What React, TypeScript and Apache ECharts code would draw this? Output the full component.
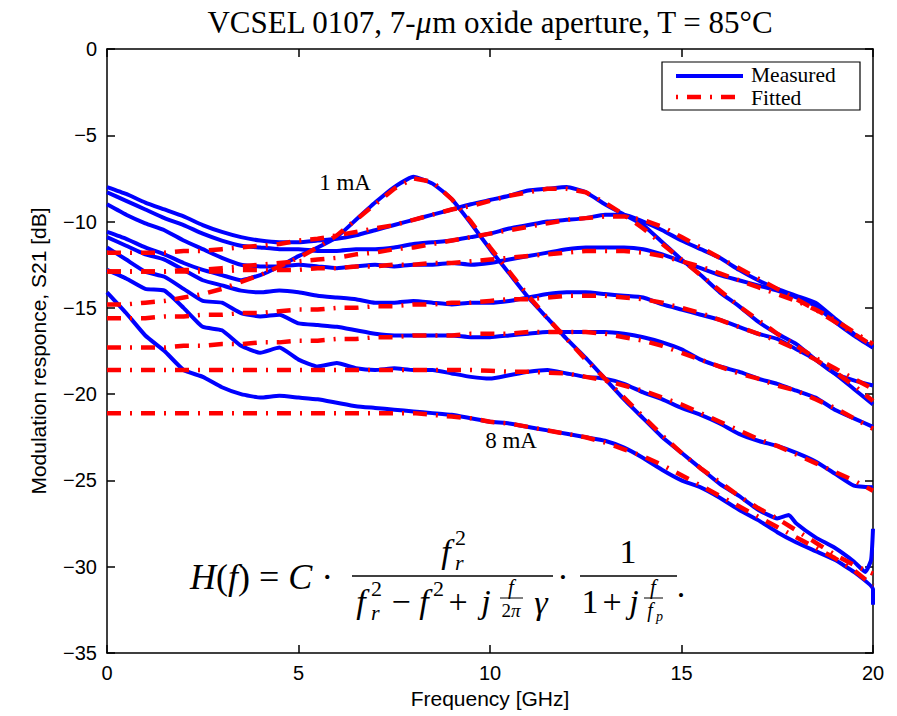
import React, { useEffect, useRef } from 'react';
import * as echarts from 'echarts';

// Frequency grid [GHz]
const freqGHz = [0, 0.5, 1, 1.5, 2, 2.5, 3, 3.5, 4, 4.5, 5, 5.5, 6, 6.5, 7, 7.5, 8, 8.5, 9, 9.5, 10, 10.5, 11, 11.5, 12, 12.5, 13, 13.5, 14, 14.5, 15, 15.5, 16, 16.5, 17, 17.5, 18, 18.5, 19, 19.5, 20];

// Measured S21 [dB]
const measured1mA = [-10.6, -11.0, -11.5, -11.9, -12.4, -12.8, -13.1, -13.4, -13.1, -12.6, -12.0, -11.5, -10.9, -9.9, -8.9, -8.0, -7.4, -7.8, -8.7, -10.1, -11.6, -13.0, -14.4, -15.6, -16.8, -17.9, -19.1, -20.3, -21.4, -22.5, -23.4, -24.3, -25.2, -25.9, -26.7, -27.2, -27.5, -28.3, -28.9, -29.7, -27.8];
const measured1mATail = [[17.8, -27.0], [19.8, -30.3], [19.95, -29.6]];
const measured2mA = [-8.0, -8.4, -8.9, -9.3, -9.7, -10.2, -10.6, -10.9, -11.1, -11.2, -11.2, -11.1, -11.0, -10.8, -10.5, -10.2, -9.9, -9.6, -9.3, -9.0, -8.75, -8.5, -8.2, -8.1, -8.0, -8.3, -9.0, -9.6, -10.2, -11.2, -12.2, -13.1, -14.1, -14.9, -15.8, -16.5, -17.1, -18.0, -18.8, -19.2, -19.5];
const measured3mA = [-8.3, -8.8, -9.3, -9.8, -10.2, -10.7, -11.1, -11.4, -11.5, -11.6, -11.6, -11.7, -11.7, -11.6, -11.6, -11.5, -11.3, -11.2, -11.1, -10.9, -10.7, -10.4, -10.2, -10.0, -9.9, -9.8, -9.6, -9.6, -10.0, -10.5, -11.1, -11.6, -12.1, -12.8, -13.4, -13.9, -14.3, -14.7, -15.6, -16.5, -17.3];
const measured4mA = [-9.0, -9.6, -10.1, -10.5, -11.1, -11.6, -12.1, -12.5, -12.6, -12.6, -12.5, -12.6, -12.7, -12.6, -12.5, -12.6, -12.5, -12.5, -12.4, -12.5, -12.4, -12.2, -12.0, -11.8, -11.6, -11.5, -11.5, -11.5, -11.6, -11.9, -12.3, -12.7, -13.1, -13.4, -13.7, -14.0, -14.4, -14.9, -15.8, -16.6, -17.3];
const measured5mA = [-10.9, -11.4, -11.9, -12.2, -12.8, -13.4, -13.7, -14.0, -14.1, -14.0, -14.1, -14.3, -14.4, -14.5, -14.7, -14.7, -14.6, -14.7, -14.8, -14.7, -14.7, -14.6, -14.4, -14.2, -14.1, -14.1, -14.2, -14.3, -14.4, -14.8, -15.1, -15.4, -15.7, -16.1, -16.5, -16.8, -17.4, -18.0, -18.8, -19.7, -20.6];
const measured6mA = [-11.5, -12.2, -12.9, -13.2, -13.9, -14.6, -14.7, -15.3, -15.5, -15.4, -15.9, -16.0, -16.1, -16.3, -16.5, -16.6, -16.6, -16.6, -16.6, -16.7, -16.7, -16.6, -16.5, -16.4, -16.4, -16.4, -16.4, -16.5, -16.7, -17.0, -17.4, -18.0, -18.4, -18.7, -19.1, -19.4, -19.8, -20.2, -20.9, -21.4, -21.9];
const measured7mA = [-12.8, -13.3, -13.9, -14.0, -15.0, -16.1, -16.3, -17.2, -17.6, -17.3, -18.0, -18.4, -18.2, -18.5, -18.6, -18.5, -18.6, -18.6, -18.8, -19.0, -19.1, -18.9, -18.7, -18.6, -18.8, -19.0, -19.1, -19.4, -19.9, -20.3, -20.8, -21.2, -21.7, -22.3, -22.7, -23.0, -23.4, -23.9, -24.6, -25.3, -25.4];
const measured8mA = [-14.1, -15.3, -16.6, -17.5, -18.6, -19.0, -19.6, -20.0, -20.2, -20.1, -20.2, -20.3, -20.5, -20.7, -20.8, -20.9, -21.0, -21.1, -21.2, -21.4, -21.6, -21.7, -21.9, -22.1, -22.3, -22.5, -22.7, -23.1, -23.7, -24.4, -25.0, -25.4, -26.0, -26.7, -27.3, -28.0, -28.6, -29.1, -29.6, -30.3, -31.3];
const measured8mATail = [[20, -32.2]];

// Fitted S21 [dB]
const fitted1mA = [-14.8, -14.8, -14.7, -14.6, -14.4, -14.2, -13.9, -13.5, -13.1, -12.6, -12.1, -11.5, -10.8, -9.9, -9.0, -8.1, -7.5, -7.7, -8.7, -10.0, -11.5, -12.9, -14.3, -15.6, -16.8, -18.0, -19.1, -20.2, -21.3, -22.4, -23.4, -24.3, -25.1, -25.9, -26.6, -27.2, -27.9, -28.6, -29.3, -29.9, -30.4];
const fitted2mA = [-11.8, -11.8, -11.8, -11.8, -11.7, -11.7, -11.6, -11.5, -11.4, -11.3, -11.1, -11.0, -10.8, -10.6, -10.4, -10.2, -9.9, -9.6, -9.3, -9.1, -8.8, -8.5, -8.3, -8.1, -8.1, -8.3, -8.9, -9.6, -10.4, -11.3, -12.2, -13.1, -14.0, -14.9, -15.7, -16.5, -17.2, -17.9, -18.5, -19.1, -19.7];
const fitted3mA = [-12.9, -12.9, -12.9, -12.9, -12.8, -12.8, -12.7, -12.6, -12.5, -12.4, -12.3, -12.2, -12.1, -11.9, -11.8, -11.6, -11.5, -11.3, -11.1, -10.9, -10.7, -10.5, -10.3, -10.1, -9.9, -9.8, -9.7, -9.7, -9.9, -10.3, -10.9, -11.5, -12.1, -12.7, -13.3, -13.9, -14.5, -15.1, -15.8, -16.5, -17.2];
const fitted4mA = [-12.9, -12.9, -12.9, -12.9, -12.9, -12.9, -12.9, -12.8, -12.8, -12.8, -12.8, -12.7, -12.7, -12.6, -12.6, -12.5, -12.5, -12.4, -12.4, -12.3, -12.2, -12.1, -12.0, -11.9, -11.8, -11.7, -11.7, -11.7, -11.8, -12.0, -12.3, -12.6, -13.0, -13.4, -13.8, -14.2, -14.6, -15.1, -15.7, -16.4, -17.1];
const fitted5mA = [-15.6, -15.6, -15.6, -15.5, -15.5, -15.4, -15.4, -15.3, -15.3, -15.2, -15.1, -15.1, -15.0, -15.0, -14.9, -14.9, -14.8, -14.8, -14.7, -14.7, -14.6, -14.5, -14.5, -14.4, -14.3, -14.3, -14.3, -14.4, -14.5, -14.7, -15.0, -15.3, -15.7, -16.1, -16.5, -16.9, -17.4, -18.0, -18.7, -19.5, -20.4];
const fitted6mA = [-17.3, -17.3, -17.3, -17.3, -17.2, -17.2, -17.1, -17.1, -17.0, -17.0, -16.9, -16.9, -16.8, -16.8, -16.7, -16.7, -16.6, -16.6, -16.6, -16.5, -16.5, -16.5, -16.4, -16.4, -16.4, -16.4, -16.5, -16.7, -16.9, -17.2, -17.6, -18.0, -18.4, -18.8, -19.1, -19.5, -19.8, -20.3, -20.8, -21.4, -22.0];
const fitted7mA = [-18.6, -18.6, -18.6, -18.6, -18.6, -18.6, -18.6, -18.6, -18.6, -18.6, -18.6, -18.6, -18.6, -18.6, -18.6, -18.6, -18.6, -18.6, -18.6, -18.6, -18.65, -18.7, -18.7, -18.75, -18.8, -19.0, -19.2, -19.5, -19.8, -20.2, -20.6, -21.1, -21.6, -22.1, -22.6, -23.0, -23.5, -24.0, -24.5, -25.0, -25.6];
const fitted8mA = [-21.1, -21.1, -21.1, -21.1, -21.1, -21.1, -21.1, -21.1, -21.1, -21.1, -21.1, -21.1, -21.1, -21.1, -21.1, -21.1, -21.1, -21.2, -21.3, -21.4, -21.6, -21.7, -21.9, -22.1, -22.3, -22.5, -22.8, -23.2, -23.6, -24.1, -24.7, -25.3, -25.9, -26.5, -27.1, -27.7, -28.3, -28.9, -29.5, -30.2, -31.1];

const currentLabels = ['1 mA', '8 mA'];
const titleText = 'VCSEL 0107, 7-{i|\u03bc}m oxide aperture, T = 85\u00b0C';
const xAxisName = 'Frequency [GHz]';
const yAxisName = 'Modulation responce, S21 [dB]';
const legendNames = ['Measured', 'Fitted'];

const measuredSets: [number[], number[][]][] = [
  [measured1mA, measured1mATail],
  [measured2mA, []],
  [measured3mA, []],
  [measured4mA, []],
  [measured5mA, []],
  [measured6mA, []],
  [measured7mA, []],
  [measured8mA, measured8mATail],
];
const fittedSets = [fitted1mA, fitted2mA, fitted3mA, fitted4mA, fitted5mA, fitted6mA, fitted7mA, fitted8mA];

const SERIF = '"Liberation Serif", "Times New Roman", serif';
const SANS = '"Liberation Sans", Arial, Helvetica, sans-serif';
const RED_DASH = [14, 9, 2, 9];

function toPairs(vals: number[], tail: number[][] = []) {
  const d = freqGHz.map((f, i) => [f, vals[i]]);
  return d.concat(tail).sort((a, b) => a[0] - b[0]);
}

function txt(x: number, y: number, text: string, size: number, italic = false, align = 'center', rich?: any) {
  const style: any = {
    text,
    fontFamily: SERIF,
    fontSize: size,
    fontStyle: italic ? 'italic' : 'normal',
    fill: '#000',
    align,
    textAlign: align,
    verticalAlign: 'middle',
    textVerticalAlign: 'middle',
  };
  if (rich) style.rich = rich;
  return { type: 'text', x, y, z: 100, silent: true, style };
}

function hline(x1: number, x2: number, y: number, w = 1.3, color = '#000', dash?: number[], dashOffset = 0) {
  const style: any = { stroke: color, lineWidth: w };
  if (dash) {
    style.lineDash = dash;
    style.lineDashOffset = dashOffset;
  }
  return { type: 'line', z: 100, silent: true, shape: { x1, y1: y, x2, y2: y }, style };
}

const italicRich = (size: number) => ({ i: { fontStyle: 'italic', fontFamily: SERIF, fontSize: size, fill: '#000' } });

export default function App() {
  const ref = useRef<HTMLDivElement>(null);

  useEffect(() => {
    if (!ref.current) return;
    const chart = echarts.init(ref.current, null, { renderer: 'svg' });

    const series: any[] = [];
    measuredSets.forEach(([vals, tail]) => {
      series.push({
        type: 'line',
        name: legendNames[0],
        data: toPairs(vals, tail),
        showSymbol: false,
        symbol: 'none',
        smooth: 0.15,
        silent: true,
        z: 2,
        lineStyle: { color: '#0000FF', width: 4 },
        emphasis: { disabled: true },
      });
    });
    fittedSets.forEach((vals) => {
      series.push({
        type: 'line',
        name: legendNames[1],
        data: toPairs(vals),
        showSymbol: false,
        symbol: 'none',
        smooth: false,
        silent: true,
        z: 3,
        lineStyle: { color: '#FF0000', width: 4.5, type: RED_DASH },
        emphasis: { disabled: true },
      });
    });

    const axisLine = { show: true, onZero: false, lineStyle: { color: '#000', width: 1.5 } };
    const axisTick = { show: true, inside: true, length: 8, lineStyle: { color: '#000', width: 1.5 } };
    const labelStyle = { fontFamily: SANS, fontSize: 20, color: '#000' };
    const nameStyle = { fontFamily: SANS, fontSize: 21, color: '#000' };

    const graphic: any[] = [
      // title
      txt(490, 22, titleText, 31, false, 'center', italicRich(31)),
      // curve labels
      txt(345, 182, currentLabels[0], 23),
      txt(511, 440, currentLabels[1], 23),
      // legend
      { type: 'rect', z: 99, silent: true, shape: { x: 662, y: 62, width: 198, height: 48 }, style: { fill: '#fff', stroke: '#000', lineWidth: 1.2 } },
      hline(676, 743, 76, 4, '#0000FF'),
      hline(676, 743, 97, 4.5, '#FF0000', RED_DASH, 23),
      txt(751, 75, legendNames[0], 21.5, false, 'left'),
      txt(751, 98, legendNames[1], 21.5, false, 'left'),
      // formula: H(f) = C .
      txt(190, 577, '{i|H}({i|f}) = {i|C} \u00b7', 36, false, 'left', italicRich(36)),
      // fraction 1 numerator
      txt(446, 551, 'f', 34, true),
      txt(455, 537, '2', 22, false, 'left'),
      txt(455, 562, 'r', 22, true, 'left'),
      hline(352, 553, 576),
      // fraction 1 denominator
      txt(361, 601, 'f', 34, true),
      txt(371, 588, '2', 22, false, 'left'),
      txt(371, 612, 'r', 22, true, 'left'),
      txt(401, 601, '\u2212', 34),
      txt(424, 601, 'f', 34, true),
      txt(433, 588, '2', 22, false, 'left'),
      txt(458, 601, '+', 34),
      txt(486, 601, 'j', 34, true),
      txt(511, 587, 'f', 21, true),
      hline(500, 523, 598, 1),
      txt(511, 610, '2{i|\u03c0}', 19, false, 'center', italicRich(19)),
      txt(541, 602, '\u03b3', 34, true),
      txt(563, 576, '\u00b7', 34),
      // fraction 2
      txt(628, 551, '1', 34),
      hline(580, 677, 576),
      txt(590, 601, '1', 34),
      txt(612, 601, '+', 34),
      txt(634, 601, 'j', 34, true),
      txt(653, 587, 'f', 21, true),
      hline(644, 663, 598, 1),
      txt(650, 610, 'f', 20, true),
      txt(656, 616, 'p', 14, true, 'left'),
      txt(681, 585, '.', 34),
    ];

    chart.setOption({
      animation: false,
      backgroundColor: '#ffffff',
      grid: { left: 107, top: 49, width: 766, height: 604, containLabel: false, outerBoundsMode: 'none' },
      xAxis: [
        {
          type: 'value', min: 0, max: 20, interval: 5, position: 'bottom',
          axisLine, axisTick, splitLine: { show: false },
          axisLabel: { ...labelStyle, margin: 10 },
          name: xAxisName, nameLocation: 'middle', nameGap: 33,
          nameTextStyle: { ...nameStyle },
        },
        {
          type: 'value', min: 0, max: 20, interval: 5, position: 'top',
          axisLine, axisTick, splitLine: { show: false }, axisLabel: { show: false },
        },
      ],
      yAxis: [
        {
          type: 'value', min: -35, max: 0, interval: 5, position: 'left',
          axisLine, axisTick, splitLine: { show: false },
          axisLabel: { ...labelStyle, margin: 10, formatter: (v: number) => (v < 0 ? '\u2212' + Math.abs(v) : String(v)) },
          name: yAxisName, nameLocation: 'middle', nameGap: 58, nameRotate: 90,
          nameTextStyle: { ...nameStyle },
        },
        {
          type: 'value', min: -35, max: 0, interval: 5, position: 'right',
          axisLine, axisTick, splitLine: { show: false }, axisLabel: { show: false },
        },
      ],
      series,
      graphic,
    });

    return () => chart.dispose();
  }, []);

  return (
    <div
      ref={ref}
      style={{ position: 'absolute', left: 0, top: 0, width: 897, height: 716, background: '#fff' }}
    />
  );
}
